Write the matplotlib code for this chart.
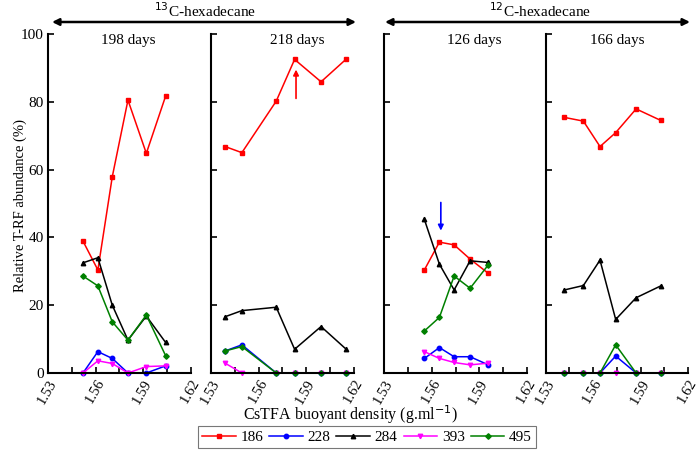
import matplotlib
matplotlib.use("Agg")
import matplotlib.pyplot as plt

plt.rcParams['font.family'] = ['Liberation Serif', 'DejaVu Serif']

series_names = ["186", "228", "284", "393", "495"]
series_colors = ["#ff0000", "#0000ff", "#000000", "#ff00ff", "#008000"]
series_markers = ["s", "o", "^", "v", "D"]

panel_titles = ["198 days", "218 days", "126 days", "166 days"]

# Panel 1: 13C-hexadecane, 198 days
p1_x = [1.5521, 1.5615, 1.5706, 1.5805, 1.5921, 1.6043]
p1_186 = [38.9, 30.4, 57.9, 80.5, 64.8, 81.7]
p1_228 = [0.0, 6.3, 4.3, 0.0, 0.0, 2.1]
p1_284 = [32.5, 34.0, 20.0, 9.7, 16.8, 9.0]
p1_393 = [0.0, 3.6, 2.8, 0.0, 1.9, 2.1]
p1_495 = [28.6, 25.7, 15.1, 9.7, 17.1, 5.1]

# Panel 2: 13C-hexadecane, 218 days
p2_x = [1.5389, 1.5495, 1.5712, 1.5828, 1.5995, 1.6154]
p2_186 = [66.8, 65.0, 80.2, 92.5, 85.9, 92.6]
p2_228 = [6.5, 8.3, 0.0, 0.0, 0.0, 0.0]
p2_284 = [16.6, 18.4, 19.4, 7.0, 13.7, 7.0]
p2_393 = [2.9, 0.0, 0.0, 0.0, 0.0, 0.0]
p2_495 = [6.5, 7.8, 0.0, 0.0, 0.0, 0.0]

# Panel 3: 12C-hexadecane, 126 days
p3_x = [1.5553, 1.5648, 1.5741, 1.5842, 1.5957]
p3_186 = [30.4, 38.6, 37.8, 33.6, 29.4]
p3_228 = [4.3, 7.5, 4.8, 4.8, 2.4]
p3_284 = [45.3, 32.1, 24.5, 33.1, 32.6]
p3_393 = [6.3, 4.3, 3.1, 2.4, 2.9]
p3_495 = [12.4, 16.4, 28.6, 25.0, 31.9]

# Panel 4: 12C-hexadecane, 166 days
p4_x = [1.5418, 1.5538, 1.5643, 1.5742, 1.5871, 1.6027]
p4_186 = [75.4, 74.3, 66.8, 70.9, 77.9, 74.5]
p4_228 = [0.0, 0.0, 0.0, 5.0, 0.0, 0.0]
p4_284 = [24.5, 25.8, 33.3, 15.8, 22.2, 25.7]
p4_393 = [0.0, 0.0, 0.0, 0.0, 0.0, 0.0]
p4_495 = [0.0, 0.0, 0.0, 8.3, 0.0, 0.0]

panels = [
    (p1_x, [p1_186, p1_228, p1_284, p1_393, p1_495]),
    (p2_x, [p2_186, p2_228, p2_284, p2_393, p2_495]),
    (p3_x, [p3_186, p3_228, p3_284, p3_393, p3_495]),
    (p4_x, [p4_186, p4_228, p4_284, p4_393, p4_495]),
]

x_ticks = [1.53, 1.545, 1.56, 1.575, 1.59, 1.605, 1.62]
x_tick_labels = ["1.53", "", "1.56", "", "1.59", "", "1.62"]
y_ticks = [0, 20, 40, 60, 80, 100]

fig = plt.figure(figsize=(6.98, 4.55), dpi=100)
W, H = 698.0, 455.0
lefts = [48, 211, 384.3, 545.7]
ax_w = 142.5
bottom_px, top_px = 373, 34
title_x = [1.5805, 1.5845, 1.5865, 1.5755]

axes = []
for i, (xs, ys_list) in enumerate(panels):
    ax = fig.add_axes([lefts[i] / W, 1 - bottom_px / H, ax_w / W, (bottom_px - top_px) / H])
    axes.append(ax)
    for name, col, mk, ys in zip(series_names, series_colors, series_markers, ys_list):
        ax.plot(xs, ys, color=col, marker=mk, markersize=3.2 if mk != "D" else 2.8,
                linewidth=1.1, label=name, clip_on=False)
    ax.set_xlim(1.53, 1.62)
    ax.set_ylim(0, 100)
    for s in ["top", "right"]:
        ax.spines[s].set_visible(False)
    for s in ["left", "bottom"]:
        ax.spines[s].set_linewidth(1.5)
    ax.set_xticks(x_ticks)
    ax.set_xticklabels(x_tick_labels, rotation=60, ha="right", va="top",
                       rotation_mode="anchor", fontsize=10.5)
    ax.set_yticks(y_ticks)
    if i == 0:
        ax.set_yticklabels([str(v) for v in y_ticks], fontsize=11)
    else:
        ax.set_yticklabels([])
    ax.tick_params(direction="in", length=4, width=1.2, pad=3)
    ax.text(title_x[i], 98, panel_titles[i], ha="center", va="center", fontsize=11)

# arrows inside panels
axes[1].annotate("", xy=(1.5837, 89.5), xytext=(1.5837, 81),
                 arrowprops=dict(arrowstyle="-|>", color="#ff0000", lw=1.2,
                                 mutation_scale=8, shrinkA=0, shrinkB=0))
axes[2].annotate("", xy=(1.5657, 42.0), xytext=(1.5657, 50.3),
                 arrowprops=dict(arrowstyle="-|>", color="#0000ff", lw=1.2,
                                 mutation_scale=8, shrinkA=0, shrinkB=0))

fig.text(20 / W, 1 - 205 / H, "Relative T-RF abundance (%)", rotation=90,
         ha="center", va="center", fontsize=10.5)

# group headers with double arrows
y_arrow = 1 - 22 / H
fig.add_artist(matplotlib.patches.FancyArrowPatch((52 / W, y_arrow), (356 / W, y_arrow),
               transform=fig.transFigure, arrowstyle="<|-|>", mutation_scale=10,
               color="black", lw=1.8, shrinkA=0, shrinkB=0))
fig.add_artist(matplotlib.patches.FancyArrowPatch((385 / W, y_arrow), (690 / W, y_arrow),
               transform=fig.transFigure, arrowstyle="<|-|>", mutation_scale=10,
               color="black", lw=1.8, shrinkA=0, shrinkB=0))
fig.text(205 / W, 1 - 11 / H, "$^{13}$C-hexadecane", ha="center", va="center", fontsize=11)
fig.text(540 / W, 1 - 11 / H, "$^{12}$C-hexadecane", ha="center", va="center", fontsize=11)

fig.text(350 / W, 1 - 415 / H, "CsTFA buoyant density (g.ml$^{-1}$)", ha="center",
         va="center", fontsize=11.5)

handles, labels = axes[0].get_legend_handles_labels()
leg = fig.legend(handles, labels, loc="center", bbox_to_anchor=(367 / W, 1 - 437 / H),
                 ncol=5, fontsize=11, frameon=True, fancybox=False, edgecolor="#555555",
                 handlelength=2.2, handletextpad=0.3, columnspacing=0.4,
                 borderpad=0.3)
leg.get_frame().set_linewidth(0.8)

fig.savefig("out.png", dpi=100)
